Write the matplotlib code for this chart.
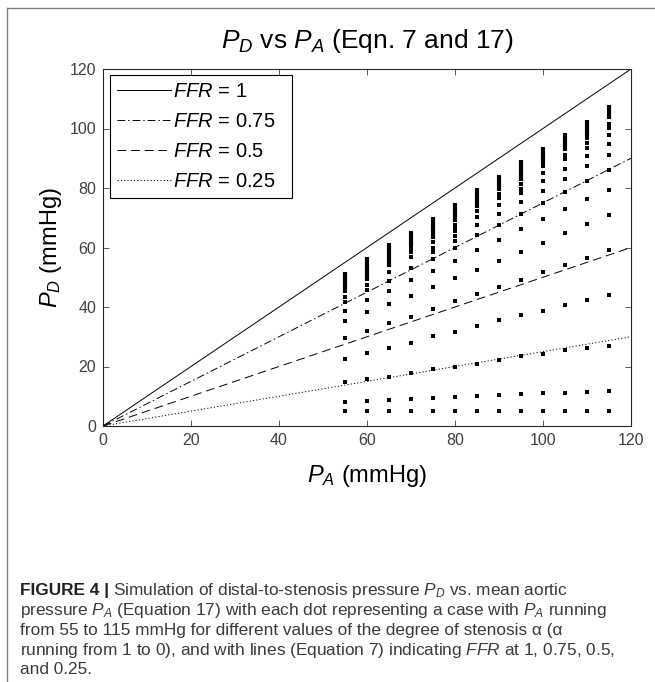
import matplotlib
matplotlib.use("Agg")
import matplotlib.pyplot as plt
from matplotlib.lines import Line2D

plt.rcParams['font.family'] = ['Liberation Sans', 'DejaVu Sans']
plt.rcParams['mathtext.fontset'] = 'custom'
plt.rcParams['mathtext.rm'] = 'Liberation Sans'
plt.rcParams['mathtext.it'] = 'Liberation Sans:italic'
plt.rcParams['mathtext.bf'] = 'Liberation Sans:bold'

# aortic pressure of each simulated column (mmHg)
pa_cols = [55, 60, 65, 70, 75, 80, 85, 90, 95, 100, 105, 110, 115]

# dense stack of dots at the top of each column (small alpha), low / high end
bar_lo = [44.8, 48.6, 53.3, 60.5, 62.7, 68.5, 73.3, 79.1, 82.2, 88.0, 92.3, 97.5, 103.2]
bar_hi = [51.6, 56.7, 61.4, 65.5, 70.4, 74.9, 79.9, 84.5, 89.3, 93.8, 98.5, 103.0, 107.8]

# separate dots under the stack, one list per column
pd_55 = [43.5, 41.8, 38.8, 35.2, 29.6, 22.6, 14.8, 8.0, 5.0]
pd_60 = [47.3, 45.6, 42.2, 38.2, 31.8, 24.6, 15.7, 8.5, 5.0]
pd_65 = [51.7, 48.9, 45.5, 41.1, 34.6, 26.2, 16.5, 8.6, 5.0]
pd_70 = [59.7, 58.4, 56.8, 53.0, 49.1, 43.6, 36.7, 28.0, 17.8, 9.1, 5.0]
pd_75 = [61.7, 60.0, 58.5, 56.1, 52.0, 46.6, 39.4, 30.1, 19.1, 9.5, 5.0]
pd_80 = [67.5, 66.4, 65.4, 63.8, 62.2, 59.8, 55.6, 49.6, 41.9, 31.7, 20.0, 9.8, 5.0]
pd_85 = [72.3, 70.4, 67.5, 64.2, 59.0, 52.6, 44.4, 33.7, 21.0, 10.2, 5.0]
pd_90 = [78.0, 76.8, 74.4, 71.4, 67.6, 62.4, 55.6, 46.6, 35.5, 22.3, 10.5, 5.0]
pd_95 = [81.2, 79.6, 78.3, 75.4, 71.2, 66.1, 58.6, 49.1, 37.2, 23.4, 10.7, 5.0]
pd_100 = [87.3, 85.1, 82.3, 79.1, 74.9, 69.5, 61.6, 51.6, 38.8, 24.3, 11.0, 5.0]
pd_105 = [91.2, 89.6, 86.5, 83.1, 78.8, 73.0, 64.8, 54.2, 40.6, 25.5, 11.2, 5.0]
pd_110 = [96.7, 95.1, 93.3, 90.7, 87.5, 82.4, 76.2, 68.0, 56.6, 42.5, 26.1, 11.5, 5.0]
pd_115 = [101.6, 100.3, 97.8, 94.7, 91.1, 86.1, 79.4, 70.8, 59.2, 44.0, 27.0, 11.8, 5.0]
pd_cols = [pd_55, pd_60, pd_65, pd_70, pd_75, pd_80, pd_85,
           pd_90, pd_95, pd_100, pd_105, pd_110, pd_115]

# FFR reference lines (Eqn. 7): PD = FFR * PA
ffr_vals = [1, 0.75, 0.5, 0.25]
ffr_labels = ['$FFR$ = 1', '$FFR$ = 0.75', '$FFR$ = 0.5', '$FFR$ = 0.25']
ffr_dashes = [None, (8, 3, 1.5, 3), (9, 5), (1.2, 2.2)]
pa_line = [0, 120]

fig = plt.figure(figsize=(6.55, 6.82), dpi=100)
ax = fig.add_axes([103/655, 1 - 426/682, 528/655, 357/682])

for f, lab, d in zip(ffr_vals, ffr_labels, ffr_dashes):
    ln, = ax.plot(pa_line, [f * p for p in pa_line], color='black', lw=0.7, label=lab)
    if d is not None:
        ln.set_dashes(d)

# simulated cases
ax.vlines(pa_cols, bar_lo, bar_hi, color='black', lw=3.0)
for p, col in zip(pa_cols, pd_cols):
    ax.plot([p] * len(col), col, 's', color='black', ms=3.1, mew=0)

ax.set_xlim(0, 120)
ax.set_ylim(0, 120)
ax.set_xticks([0, 20, 40, 60, 80, 100, 120])
ax.set_yticks([0, 20, 40, 60, 80, 100, 120])
ax.tick_params(direction='in', top=True, right=True, length=4, width=0.6,
               labelsize=11.5, colors='#404040', pad=5)
for s in ax.spines.values():
    s.set_linewidth(0.8)
    s.set_color('#262626')

ax.set_title('$P_D$ vs $P_A$ (Eqn. 7 and 17)', fontsize=19, pad=15)
ax.set_xlabel('$P_A$ (mmHg)', fontsize=17, labelpad=11)
ax.set_ylabel('$P_D$ (mmHg)', fontsize=17, labelpad=4)

# expand mode stretches the box to the given width, text stays left
leg = ax.legend(loc='upper left', bbox_to_anchor=(0.013, 0.5, 0.345, 0.483),
                mode='expand', borderaxespad=0,
                fontsize=14.5, handlelength=2.7, handletextpad=0.1,
                labelspacing=0.55, borderpad=0.35, fancybox=False,
                framealpha=1, edgecolor='black')
leg.get_frame().set_linewidth(0.8)

# outer panel frame
fig.add_artist(Line2D([7/655, 1], [1 - 8/682, 1 - 8/682], color='#808080', lw=1.0))
fig.add_artist(Line2D([7/655, 7/655], [0, 1 - 8/682], color='#808080', lw=1.0))

# caption
cap_color = '#3a3a3a'
cap_fs = 12.4
cap_x = 20/655
cap_y = [590, 610, 630, 650, 670]
head = fig.text(cap_x, 1 - cap_y[0]/682, 'FIGURE 4 |', fontsize=cap_fs,
                weight='bold', color='#222222', va='center')
fig.canvas.draw()
bb = head.get_window_extent(fig.canvas.get_renderer())
fig.text(bb.x1/655 + 4/655, 1 - cap_y[0]/682,
         'Simulation of distal-to-stenosis pressure $P_D$ vs. mean aortic',
         fontsize=cap_fs, color=cap_color, va='center')
cap_lines = [
    'pressure $P_A$ (Equation 17) with each dot representing a case with $P_A$ running',
    'from 55 to 115 mmHg for different values of the degree of stenosis α (α',
    'running from 1 to 0), and with lines (Equation 7) indicating $FFR$ at 1, 0.75, 0.5,',
    'and 0.25.',
]
for yy, txt in zip(cap_y[1:], cap_lines):
    fig.text(cap_x, 1 - yy/682, txt, fontsize=cap_fs, color=cap_color, va='center')

fig.savefig('out.png', dpi=100)
